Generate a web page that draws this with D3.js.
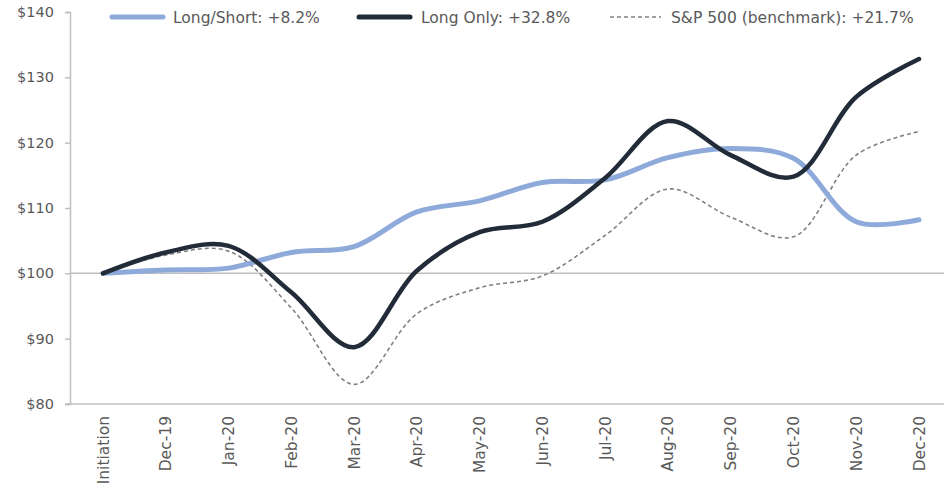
<!DOCTYPE html>
<html><head><meta charset="utf-8">
<script src="https://cdn.jsdelivr.net/npm/d3@7"></script>
<style>body{margin:0;background:#fff;} svg{display:block;font-family:'DejaVu Sans',sans-serif;}</style>
</head><body><svg id="c" width="944" height="490"></svg>
<script>
const categories = ["Initiation","Dec-19","Jan-20","Feb-20","Mar-20","Apr-20","May-20","Jun-20","Jul-20","Aug-20","Sep-20","Oct-20","Nov-20","Dec-20"];
const longShort = [100,100.5,100.8,103.2,104.1,109.4,111.1,113.9,114.3,117.7,119.1,117.6,107.9,108.2];
const longOnly  = [100,103.2,104.2,97.1,88.7,100.4,106.3,107.9,114.6,123.3,118.1,114.8,127.0,132.8];
const sp500     = [100,102.8,103.4,94.7,83.0,93.8,97.8,99.6,105.8,112.9,108.6,105.6,118.1,121.7];
const yTicks = [80,90,100,110,120,130,140];
const seriesNames = ["Long/Short: +8.2%","Long Only: +32.8%","S&P 500 (benchmark): +21.7%"];

const FONT = "'DejaVu Sans',sans-serif";
const svg = d3.select("#c");
const x = d3.scalePoint().domain(categories).range([103,919]);
const y = d3.scaleLinear().domain([80,140]).range([404,12]);
const axisColor = "#bfbfbf", textColor = "#595959";

// y axis
const ya = svg.append("g").attr("transform","translate(70,0)")
  .call(d3.axisLeft(y).tickValues(yTicks).tickSize(5).tickFormat(d=>"$"+d));
ya.select(".domain").attr("stroke",axisColor).attr("stroke-width",1.5);
ya.selectAll(".tick line").attr("stroke",axisColor).attr("stroke-width",1.5);
ya.selectAll(".tick text").attr("fill",textColor).attr("font-size",14.5).attr("x",-16)
  .attr("font-family",FONT);

// x axis baseline
svg.append("line").attr("x1",65).attr("x2",944).attr("y1",y(80)).attr("y2",y(80))
  .attr("stroke",axisColor).attr("stroke-width",1.5);
// 100 reference line
svg.append("line").attr("x1",70).attr("x2",948).attr("y1",y(100)).attr("y2",y(100))
  .attr("stroke",axisColor).attr("stroke-width",1.5);

// x labels
svg.append("g").selectAll("text").data(categories).join("text")
  .attr("transform",d=>`translate(${x(d)+5.5},416) rotate(-90)`)
  .attr("text-anchor","end").attr("fill",textColor).attr("font-size",15.5).attr("font-family",FONT).text(d=>d);

const line = d3.line().x((d,i)=>x(categories[i])).y(d=>y(d)).curve(d3.curveCatmullRom.alpha(0.5));
svg.append("path").datum(sp500).attr("d",line).attr("fill","none")
  .attr("stroke","#808080").attr("stroke-width",1.6).attr("stroke-dasharray","4,3");
svg.append("path").datum(longShort).attr("d",line).attr("fill","none")
  .attr("stroke","#8eaadb").attr("stroke-width",5).attr("stroke-linecap","round");
svg.append("path").datum(longOnly).attr("d",line).attr("fill","none")
  .attr("stroke","#222b38").attr("stroke-width",4.5).attr("stroke-linecap","round");

// legend
const leg = [
  {x1:112,x2:163,tx:173,color:"#8eaadb",w:5,dash:null},
  {x1:359,x2:410,tx:421,color:"#222b38",w:5,dash:null},
  {x1:610,x2:661,tx:671,color:"#808080",w:1.6,dash:"4,3"}
];
leg.forEach((l,i)=>{
  const ln = svg.append("line").attr("x1",l.x1).attr("x2",l.x2).attr("y1",17).attr("y2",17)
    .attr("stroke",l.color).attr("stroke-width",l.w).attr("stroke-linecap",l.dash?"butt":"round");
  if(l.dash) ln.attr("stroke-dasharray",l.dash);
  svg.append("text").attr("x",l.tx).attr("y",22.5).attr("fill",textColor).attr("font-size",15.5)
    .attr("font-family",FONT).text(seriesNames[i]);
});
</script></body></html>
